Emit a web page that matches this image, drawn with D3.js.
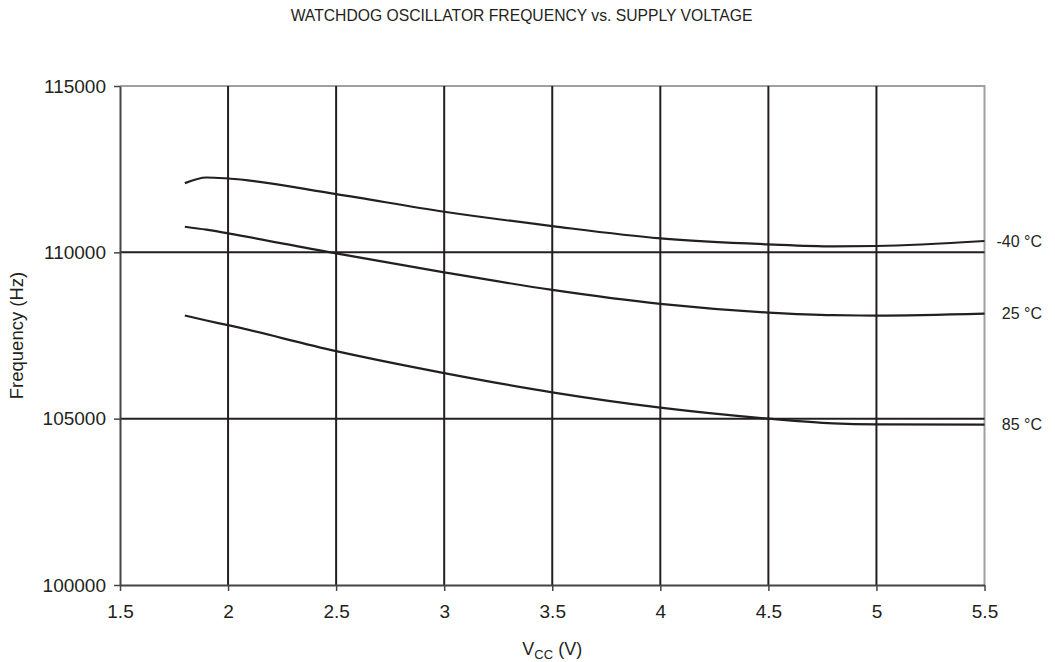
<!DOCTYPE html>
<html>
<head>
<meta charset="utf-8">
<script src="https://cdn.jsdelivr.net/npm/d3@7"></script>
<style>
  body { margin: 0; background: #fff; }
  text { font-family: "Liberation Sans", Arial, sans-serif; fill: #231f20; }
</style>
</head>
<body>
<svg id="chart" width="1055" height="662"></svg>
<script>
// Datos
const voltages = [1.8, 1.9, 2.0, 2.5, 3.0, 3.5, 4.0, 4.5, 4.8, 5.0, 5.5];
const freqM40 = [112080, 112250, 112220, 111750, 111220, 110790, 110420, 110240, 110180, 110190, 110340];
const freq25  = [110770, 110680, 110570, 109970, 109400, 108870, 108450, 108190, 108110, 108100, 108160];
const freq85  = [108100, 107950, 107810, 107030, 106370, 105790, 105330, 105000, 104860, 104830, 104820];
const seriesLabels = ["-40 °C", "25 °C", "85 °C"];
const xTicks = [1.5, 2, 2.5, 3, 3.5, 4, 4.5, 5, 5.5];
const yTicks = [100000, 105000, 110000, 115000];

const series = [freqM40, freq25, freq85];
const ink = "#231f20";

const svg = d3.select("#chart");
const margin = { left: 120, right: 70.5, top: 86, bottom: 77 };
const W = 1055, H = 662;

const x = d3.scaleLinear().domain([1.5, 5.5]).range([margin.left, W - margin.right]);
const y = d3.scaleLinear().domain([100000, 115000]).range([H - margin.bottom, margin.top]);

// Título
svg.append("text")
    .attr("x", 521.5).attr("y", 21)
    .attr("text-anchor", "middle")
    .style("font-size", "15.7px")
    .text("WATCHDOG OSCILLATOR FREQUENCY vs. SUPPLY VOLTAGE");

// Borde superior y derecho (gris)
svg.append("path")
    .attr("d", `M${x(1.5)},${y(115000)}H${x(5.5)}V${y(100000)}`)
    .attr("fill", "none").attr("stroke", "#a0a0a0").attr("stroke-width", 2);

// Rejilla
svg.append("g").selectAll("line")
    .data(xTicks.filter(d => d > 1.5 && d < 5.5))
    .enter().append("line")
    .attr("x1", d => x(d)).attr("x2", d => x(d))
    .attr("y1", y(115000)).attr("y2", y(100000))
    .attr("stroke", ink).attr("stroke-width", 2);

svg.append("g").selectAll("line")
    .data(yTicks.filter(d => d > 100000 && d < 115000))
    .enter().append("line")
    .attr("x1", x(1.5)).attr("x2", x(5.5))
    .attr("y1", d => y(d)).attr("y2", d => y(d))
    .attr("stroke", ink).attr("stroke-width", 2);

// Ejes
const xAxis = svg.append("g")
    .attr("transform", `translate(0,${y(100000)})`)
    .call(d3.axisBottom(x).tickValues(xTicks).tickSizeInner(6).tickSizeOuter(0).tickPadding(14).tickFormat(d3.format("")));
const yAxis = svg.append("g")
    .attr("transform", `translate(${x(1.5)},0)`)
    .call(d3.axisLeft(y).tickValues(yTicks).tickSizeInner(6).tickSizeOuter(0).tickPadding(8).tickFormat(d3.format("d")));

[xAxis, yAxis].forEach(g => {
    g.select(".domain").attr("stroke", "#444").attr("stroke-width", 2);
    g.selectAll(".tick line").attr("stroke", "#444").attr("stroke-width", 1.5);
    g.selectAll(".tick text").attr("fill", ink).style("font-size", "19px")
        .style("font-family", "'Liberation Sans', Arial, sans-serif");
});

// Curvas
const line = d3.line()
    .x((d, i) => x(voltages[i]))
    .y(d => y(d))
    .curve(d3.curveMonotoneX);

svg.append("g").selectAll("path")
    .data(series)
    .enter().append("path")
    .attr("d", line)
    .attr("fill", "none")
    .attr("stroke", ink)
    .attr("stroke-width", 2.2);

// Etiquetas de series
svg.append("g").selectAll("text")
    .data(series)
    .enter().append("text")
    .attr("x", 1042)
    .attr("y", d => y(d[d.length - 1]))
    .attr("dy", "0.35em")
    .attr("text-anchor", "end")
    .style("font-size", "16px")
    .text((d, i) => seriesLabels[i]);

// Título eje Y
svg.append("text")
    .attr("transform", `translate(23,${(y(100000) + y(115000)) / 2}) rotate(-90)`)
    .attr("text-anchor", "middle")
    .style("font-size", "18.5px")
    .text("Frequency (Hz)");

// Título eje X
const xl = svg.append("text")
    .attr("x", (x(1.5) + x(5.5)) / 2).attr("y", 655)
    .attr("text-anchor", "middle")
    .style("font-size", "18px");
xl.append("tspan").text("V");
xl.append("tspan").attr("dy", 4).style("font-size", "13px").text("CC");
xl.append("tspan").attr("dy", -4).text(" (V)");
</script>
</body>
</html>
